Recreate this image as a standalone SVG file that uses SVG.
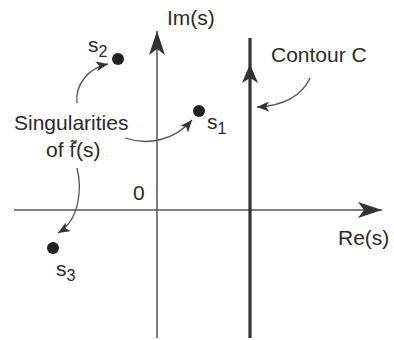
<svg xmlns="http://www.w3.org/2000/svg" width="394" height="340" viewBox="0 0 394 340">
<style>
text{font-family:"Liberation Sans",Arial,sans-serif;fill:#2a2a2a;font-size:21px}
.sub{font-size:16px}
.fx{font-family:"DejaVu Sans",sans-serif;font-size:19px}
.axis{stroke:#555;stroke-width:1.5;fill:none}
.cont{stroke:#333;stroke-width:3.2;fill:none}
.lead{stroke:#555;stroke-width:1.3;fill:none}
.dot{fill:#222}
</style>
<defs>
<marker id="big" markerWidth="26" markerHeight="16" refX="24" refY="8" orient="auto" markerUnits="userSpaceOnUse">
<path d="M0,0 L24,8 L0,16 L6,8 Z" fill="#333"/>
</marker>
<marker id="small" markerWidth="14" markerHeight="10" refX="12" refY="5" orient="auto" markerUnits="userSpaceOnUse">
<path d="M0,0 L12,5 L0,10 L3,5 Z" fill="#333"/>
</marker>
</defs>
<rect width="394" height="340" fill="#fff"/>
<g id="connectors">
<line class="axis" x1="157" y1="338" x2="157" y2="31" marker-end="url(#big)"/>
<line class="axis" x1="14" y1="210" x2="382" y2="210" marker-end="url(#big)"/>
<line class="cont" x1="250" y1="338" x2="250" y2="38"/>
<path d="M242,83 L250,64 L258,83 L250,78 Z" fill="#333"/>
<path class="lead" d="M310,78 C302,96 283,106 257,107" marker-end="url(#small)"/>
<path class="lead" d="M77,103 C75,85 88,68 108,64" marker-end="url(#small)"/>
<path class="lead" d="M125,138 C148,146 175,140 192,120" marker-end="url(#small)"/>
<path class="lead" d="M77,168 C82,188 80,220 58,233" marker-end="url(#small)"/>
</g>
<g id="s1"><circle class="dot" cx="199" cy="111" r="6"/><text x="207" y="129">s<tspan class="sub" dy="5">1</tspan></text></g>
<g id="s2"><circle class="dot" cx="118" cy="59" r="6"/><text x="88" y="52">s<tspan class="sub" dy="5">2</tspan></text></g>
<g id="s3"><circle class="dot" cx="53" cy="248" r="6"/><text x="56" y="276">s<tspan class="sub" dy="5">3</tspan></text></g>
<g id="labels">
<text x="167" y="25">Im(s)</text>
<text x="338" y="245">Re(s)</text>
<text x="133" y="200">0</text>
<text x="271" y="62">Contour C</text>
<text x="14" y="130">Singularities</text>
<text x="46" y="157">of <tspan class="fx">f̃</tspan>(s)</text>
</g>
</svg>
